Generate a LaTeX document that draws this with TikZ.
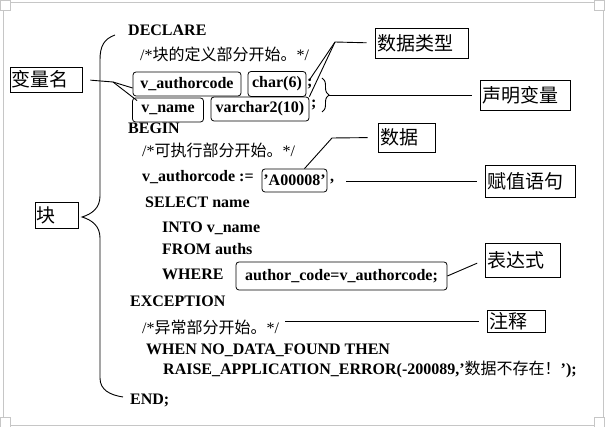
\documentclass[tikz,border=0pt]{standalone}
\usepackage{fontspec}
\setmainfont{Liberation Serif}
\newfontfamily\cjk{Noto Sans CJK SC}
\usetikzlibrary{decorations.pathreplacing}
\newcommand{\zh}[1]{{\mdseries\cjk #1}}

\begin{document}
\begin{tikzpicture}[
x=1pt, y=-1pt,
code/.style={anchor=base west, inner sep=0pt, font=\fontsize{16}{18}\selectfont\bfseries},
codebox/.style={draw, rounded corners=3pt, line width=.8pt, inner sep=0pt, font=\fontsize{16}{18}\selectfont\bfseries},
tag/.style={draw, line width=.9pt, inner xsep=2pt, inner ysep=0pt, align=left, font=\fontsize{19}{21}\selectfont\cjk},
lead/.style={line width=.9pt},
frame/.style={gray!45, line width=.8pt}
]

\useasboundingbox (0,0) rectangle (606,427);

%% Frame
\draw[frame] (10,2.5) -- (594,2.5) (3,10) -- (3,417) (603,10) -- (603,417) (10,425) -- (594,425);
\foreach \cx/\cy in {0/0,594/0,0/417,594/417}
  \draw[frame] (\cx,\cy) rectangle ++(10,10);

%% Code
\node[code] (declare) at (128,36) {DECLARE};
\node[code] (cmtdecl) at (140,61) {\mdseries/*\zh{块的定义部分开始。}*/};
\node[codebox, minimum width=108pt, minimum height=24pt] (authorcode) at (187,84) {v\_authorcode};
\node[codebox, minimum width=58pt, minimum height=25pt] (chartype) at (277,84) {char(6)};
\node[code] (semia) at (307,87) {;};
\node[codebox, minimum width=71pt, minimum height=24pt] (vname) at (168,110) {v\_name};
\node[codebox, minimum width=98pt, minimum height=24pt] (varchar) at (260,109) {varchar2(10)};
\node[code] (semib) at (311,108) {;};
\node[code] (begin) at (128,134) {BEGIN};
\node[code] (cmtexec) at (142,157) {\mdseries/*\zh{可执行部分开始。}*/};
\node[code] (assign) at (142,182) {v\_authorcode :=};
\node[codebox, minimum width=65pt, minimum height=23pt] (datum) at (294.5,180.5) {'A00008'};
\node[code] (comma) at (330,182) {,};
\node[code] (select) at (145,208) {SELECT name};
\node[code] (into) at (162,233) {INTO v\_name};
\node[code] (from) at (162,255) {FROM auths};
\node[code] (where) at (162,280) {WHERE};
\node[codebox, minimum width=211pt, minimum height=28pt] (cond) at (341.5,276) {author\_code=v\_authorcode;};
\node[code] (exception) at (130,307) {EXCEPTION};
\node[code] (cmtexc) at (142,334) {\mdseries/*\zh{异常部分开始。}*/};
\node[code] (when) at (146,355) {WHEN NO\_DATA\_FOUND THEN};
\node[code] (raise) at (163,375) {RAISE\_APPLICATION\_ERROR(-200089,'\zh{数据不存在！}');};
\node[code] (end) at (130,405) {END;};

%% Labels
\node[tag, text width=68pt, minimum height=25pt] (varlabel) at (46,79.5) {变量名};
\node[tag, text width=39pt, minimum height=26pt] (blocklabel) at (56.5,215) {块};
\node[tag, text width=89pt, minimum height=30pt] (typelabel) at (421.5,43) {数据类型};
\node[tag, text width=86pt, minimum height=30pt] (decllabel) at (525,95) {声明变量};
\node[tag, text width=53pt, minimum height=29pt] (datalabel) at (406.5,137.5) {数据};
\node[tag, text width=86pt, minimum height=32pt] (assignlabel) at (530,181) {赋值语句};
\node[tag, text width=71pt, minimum height=34pt] (exprlabel) at (522.5,260) {表达式};
\node[tag, text width=54pt, minimum height=22pt] (notelabel) at (516,321) {注释};

%% Leaders
\coordinate (varfork) at (113,82);
\draw[lead, shorten <=8pt] (varlabel.east) -- (varfork);
\draw[lead] (varfork) -- ([yshift=-4pt]authorcode.west);
\draw[lead] (varfork) -- ([xshift=5pt,yshift=-3pt]vname.north west);

\coordinate (typefork) at (335,42);
\draw[lead, shorten <=8pt] (typelabel.west) -- (typefork);
\draw[lead] (typefork) -- (semia.north);
\draw[lead] (typefork) -- (varchar.north east);

\draw[lead, decorate, decoration={brace, amplitude=7pt}] (322,78) -- (322,112);
\coordinate (decltip) at (329,95);
\draw[lead, shorten >=8pt] (decltip) -- (decllabel.west);

\coordinate (datafork) at (332,138);
\draw[lead, shorten <=10pt] (datalabel.west) -- (datafork) -- ([xshift=10pt]datum.north);

\draw[lead, shorten <=12pt, shorten >=8pt] (assignlabel.west -| comma.east) -- (assignlabel.west);
\draw[lead, shorten >=8pt] (cond.east) -- (exprlabel.west);
\draw[lead, shorten <=6pt, shorten >=8pt] (notelabel.west -| cmtexc.east) -- (notelabel.west);

%% Block bracket
\draw[lead] (115,35) .. controls (104,39) and (100,46) .. (100,60)
  -- (100,196) .. controls (100,208) and (92,214) .. (82,217) coordinate (blocktip)
  .. controls (92,220) and (100,226) .. (100,238)
  -- (100,378) .. controls (100,390) and (110,395) .. (123,397);

\end{tikzpicture}
\end{document}
